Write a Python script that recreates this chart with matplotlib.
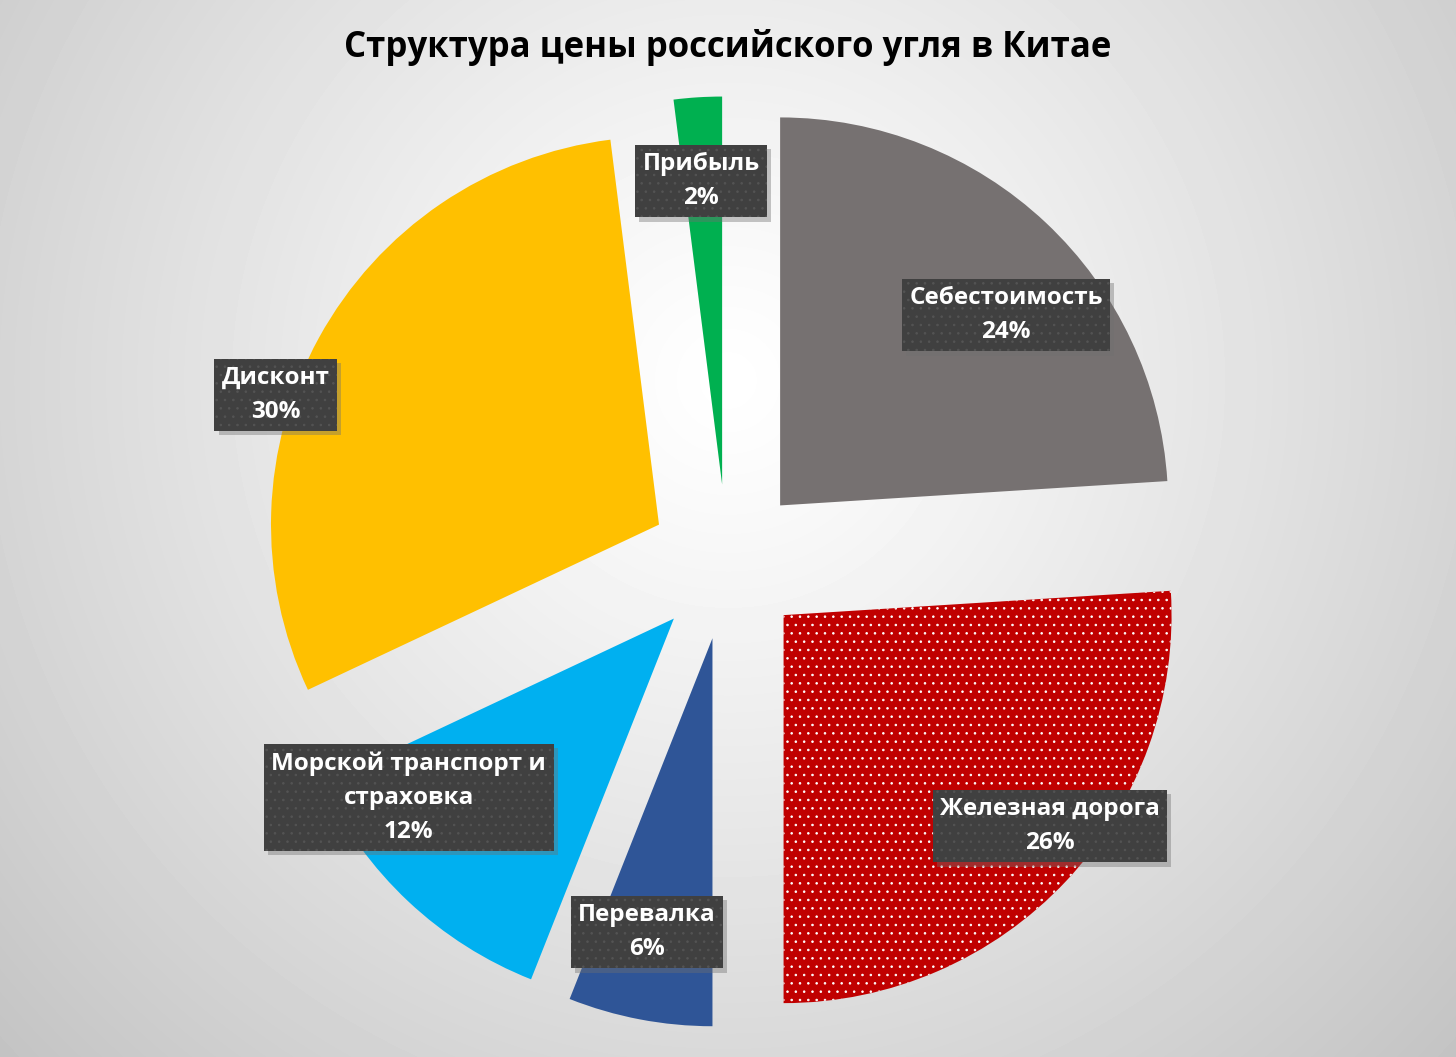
import matplotlib.pyplot as plt
import matplotlib.patheffects as pe
import numpy as np

plt.rcParams['font.family'] = ['Open Sans', 'DejaVu Sans']
plt.rcParams['hatch.linewidth'] = 0.6

# data
labels = ['Себестоимость', 'Железная дорога', 'Перевалка',
          'Морской транспорт и\nстраховка', 'Дисконт', 'Прибыль']
shares = [24, 26, 6, 12, 30, 2]
colors = ['#767171', '#C00000', '#2F5597', '#00B0F0', '#FFC000', '#00B050']

# label placement (distance from pie centre, angle clockwise from top)
label_r = [0.96, 1.075, 0.976, 1.02, 1.24, 0.984]
label_ang = [48.5, 129.3, 192.2, 233.5, 290.3, 356.1]

W, H = 1456, 1057
fig = plt.figure(figsize=(W / 100, H / 100), dpi=100)

# background radial gradient
bg = fig.add_axes([0, 0, 1, 1], zorder=0)
yy, xx = np.mgrid[0:H, 0:W]
rr = np.hypot(xx - 728, yy - 380) / 1015
bg.imshow(1 - 0.24 * rr ** 1.15, cmap='gray', vmin=0, vmax=1,
          aspect='auto', interpolation='bilinear')
bg.axis('off')

ax = fig.add_axes([0, 0, 1, 1], zorder=1)
ax.patch.set_alpha(0)
wedges, _ = ax.pie(shares, colors=colors, startangle=90, counterclock=False,
                   explode=[0.2] * len(shares), radius=1,
                   wedgeprops=dict(linewidth=0))
# dotted fill for the railway slice
wedges[1].set_hatch('..')
wedges[1].set_edgecolor('white')
wedges[1].set_linewidth(0)

R = 388.0
ax.set_xlim(-727 / R, (W - 727) / R)
ax.set_ylim(-(H - 562) / R, 562 / R)
ax.set_aspect('auto')
ax.axis('off')

for lab, val, r, a in zip(labels, shares, label_r, label_ang):
    th = np.radians(a)
    t = ax.text(r * np.sin(th), r * np.cos(th), f'{lab}\n{val}%',
                ha='center', va='center', color='white', fontsize=17.5,
                fontweight='bold', linespacing=1.55, zorder=5,
                bbox=dict(boxstyle='square,pad=0.3', facecolor='#404040',
                          edgecolor='#545454', linewidth=0, hatch='..'))
    t.get_bbox_patch().set_path_effects(
        [pe.SimplePatchShadow(offset=(3, -3), shadow_rgbFace='#707070',
                              alpha=0.4, hatch=None),
         pe.Normal()])

fig.text(0.5, 1 - 47 / H, 'Структура цены российского угля в Китае',
         ha='center', va='center', fontsize=25, fontweight='bold', color='black')

fig.savefig('out.png', dpi=100)
